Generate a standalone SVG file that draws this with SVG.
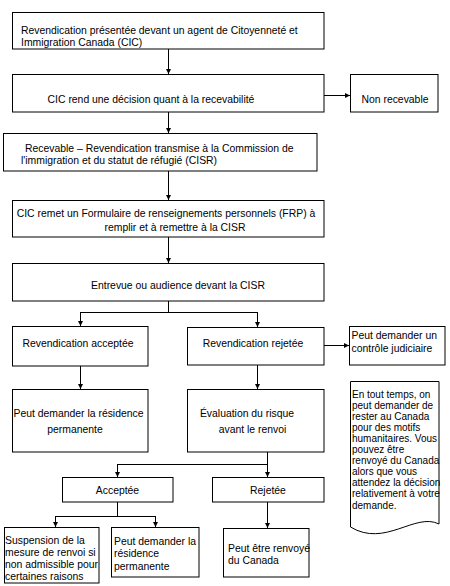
<svg xmlns="http://www.w3.org/2000/svg" width="450" height="586" viewBox="0 0 450 586">
<defs>
<marker id="ah" markerUnits="userSpaceOnUse" markerWidth="6" markerHeight="6" refX="5" refY="2.5" orient="auto">
<path d="M0,0 L5,2.5 L0,5 z" fill="#000"/>
</marker>
<style>
.b{fill:#fff;stroke:#000;stroke-width:1}
.t{font-family:"Liberation Sans",Arial,sans-serif;font-size:10.4px;fill:#000}
.n{font-family:"Liberation Sans",Arial,sans-serif;font-size:10px;fill:#000}
.m{text-anchor:middle}
.c{fill:none;stroke:#000;stroke-width:1}
.a{marker-end:url(#ah)}
</style>
</defs>
<rect width="450" height="586" fill="#fff"/>
<g id="connectors">
<path class="c a" d="M168.5,49 V74"/>
<path class="c a" d="M324,95.5 H350"/>
<path class="c a" d="M168.5,112 V133"/>
<path class="c a" d="M168.5,171 V200"/>
<path class="c a" d="M168.5,237 V263"/>
<path class="c" d="M168.5,301 V312.5 M80.5,312.5 H257.5"/>
<path class="c a" d="M80.5,312 V326"/>
<path class="c a" d="M257.5,312 V327"/>
<path class="c a" d="M324,345.5 H349"/>
<path class="c a" d="M80.5,366 V389"/>
<path class="c a" d="M257.5,365 V389"/>
<path class="c" d="M267.5,452 V464.5 M117.5,464.5 H267.5"/>
<path class="c a" d="M117.5,464 V477"/>
<path class="c a" d="M267.5,464 V477"/>
<path class="c" d="M117.5,502 V516.5 M55.5,516.5 H155.5"/>
<path class="c a" d="M55.5,516 V527"/>
<path class="c a" d="M155.5,516 V527"/>
<path class="c a" d="M267.5,502 V528"/>
</g>
<g id="n1"><rect class="b" x="12.5" y="12.5" width="311.5" height="36.5"/>
<text class="t" x="21" y="33.5">Revendication présentée devant un agent de Citoyenneté et</text>
<text class="t" x="21" y="45.5">Immigration Canada (CIC)</text></g>
<g id="n2"><rect class="b" x="12.5" y="74.5" width="311.5" height="37.5"/>
<text class="t m" x="151" y="102.5">CIC rend une décision quant à la recevabilité</text></g>
<g id="n3"><rect class="b" x="350.5" y="74.5" width="87.5" height="37.5"/>
<text class="t m" x="395" y="102.5">Non recevable</text></g>
<g id="n4"><rect class="b" x="3.5" y="133.5" width="313.5" height="37.5"/>
<text class="t" x="25" y="151.5">Recevable – Revendication transmise à la Commission de</text>
<text class="t" x="21" y="164">l'immigration et du statut de réfugié (CISR)</text></g>
<g id="n5"><rect class="b" x="12.5" y="200.5" width="311.5" height="36.5"/>
<text class="t m" x="166" y="216.5">CIC remet un Formulaire de renseignements personnels (FRP) à</text>
<text class="t m" x="175" y="230.5">remplir et à remettre à la CISR</text></g>
<g id="n6"><rect class="b" x="12.5" y="263.5" width="311.5" height="37.5"/>
<text class="t m" x="178" y="289">Entrevue ou audience devant la CISR</text></g>
<g id="n7"><rect class="b" x="12.5" y="326.5" width="135.5" height="39.5"/>
<text class="t m" x="78" y="347">Revendication acceptée</text></g>
<g id="n8"><rect class="b" x="187.5" y="327.5" width="136.5" height="37.5"/>
<text class="t m" x="253" y="347">Revendication rejetée</text></g>
<g id="n9"><rect class="b" x="349.5" y="326.5" width="95.5" height="38.5"/>
<text class="t" x="351.5" y="338.5">Peut demander un</text>
<text class="t" x="351.5" y="352">contrôle judiciaire</text></g>
<g id="n10"><path class="b" d="M350.5,381.5 H439 V524 C415,512 385,548 350.5,527 Z"/>
<text class="n" x="352" y="397.5">En tout temps, on</text>
<text class="n" x="352" y="408.6">peut demander de</text>
<text class="n" x="352" y="419.7">rester au Canada</text>
<text class="n" x="352" y="430.8">pour des motifs</text>
<text class="n" x="352" y="441.9">humanitaires. Vous</text>
<text class="n" x="352" y="453">pouvez être</text>
<text class="n" x="352" y="464.1">renvoyé du Canada</text>
<text class="n" x="352" y="475.2">alors que vous</text>
<text class="n" x="352" y="486.3">attendez la décision</text>
<text class="n" x="352" y="497.4">relativement à votre</text>
<text class="n" x="352" y="508.5">demande.</text></g>
<g id="n11"><rect class="b" x="12.5" y="389.5" width="135.5" height="62.5"/>
<text class="t m" x="78.5" y="417">Peut demander la résidence</text>
<text class="t m" x="75" y="433">permanente</text></g>
<g id="n12"><rect class="b" x="187.5" y="389.5" width="136.5" height="62.5"/>
<text class="t m" x="247" y="417">Évaluation du risque</text>
<text class="t m" x="252.5" y="433">avant le renvoi</text></g>
<g id="n13"><rect class="b" x="62.5" y="477.5" width="110.5" height="24.5"/>
<text class="t m" x="117.5" y="494">Acceptée</text></g>
<g id="n14"><rect class="b" x="212.5" y="477.5" width="111.5" height="24.5"/>
<text class="t m" x="268" y="494">Rejetée</text></g>
<g id="n15"><rect class="b" x="4.5" y="527.5" width="94.5" height="55.5"/>
<text class="t" x="5" y="544">Suspension de la</text>
<text class="t" x="5" y="556">mesure de renvoi si</text>
<text class="t" x="5" y="568">non admissible pour</text>
<text class="t" x="5" y="580">certaines raisons</text></g>
<g id="n16"><rect class="b" x="111.5" y="527.5" width="87.5" height="49.5"/>
<text class="t" x="114" y="545">Peut demander la</text>
<text class="t" x="114" y="557">résidence</text>
<text class="t" x="114" y="569.5">permanente</text></g>
<g id="n17"><rect class="b" x="223.5" y="528.5" width="85.5" height="48.5"/>
<text class="t" x="228" y="551.5">Peut être renvoyé</text>
<text class="t" x="228" y="564">du Canada</text></g>
</svg>
